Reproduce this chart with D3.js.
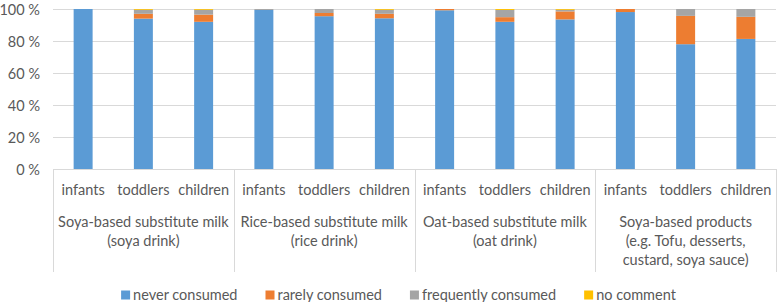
<!DOCTYPE html>
<html><head><meta charset="utf-8">
<script src="https://cdn.jsdelivr.net/npm/d3@7"></script>
<style>
html,body{margin:0;padding:0;background:#fff;}
svg text{font-family:Lato, "Open Sans", sans-serif;fill:#595959;}
</style></head>
<body>
<svg id="chart" width="780" height="302"></svg>
<script>
const categories = ["infants", "toddlers", "children"];
const groups = [
  ["Soya-based substitute milk", "(soya drink)"],
  ["Rice-based substitute milk", "(rice drink)"],
  ["Oat-based substitute milk", "(oat drink)"],
  ["Soya-based products", "(e.g. Tofu, desserts,", "custard, soya sauce)"]
];
const seriesNames = ["never consumed", "rarely consumed", "frequently consumed", "no comment"];
const neverConsumed      = [100, 94, 92,   99.4, 95.5, 94.2,  99.2, 92, 93.5,  98.1, 78, 81.3];
const rarelyConsumed     = [0,   3,  4.5,  0,    2,    2.8,   0.8,  2.9, 5,    1.9, 17.7, 13.8];
const frequentlyConsumed = [0,   2.5, 3,   0.6,  2.5,  2.5,   0,    4.5, 1,    0,   4.3, 4.9];
const noComment          = [0,   0.5, 0.5, 0,    0,    0.5,   0,    0.6, 0.5,  0,   0,   0];
const yTicks = [0, 20, 40, 60, 80, 100];
const colors = ["#5b9bd5", "#ed7d31", "#a5a5a5", "#ffc000"];

(function () {
const series = [neverConsumed, rarelyConsumed, frequentlyConsumed, noComment];
const rows = [];
groups.forEach((g, gi) => categories.forEach((c, ci) => {
  const i = gi * categories.length + ci;
  const r = {group: gi, cat: c};
  seriesNames.forEach((s, si) => r[s] = series[si][i]);
  rows.push(r);
}));

const fs = "14.5px";
const svg = d3.select("#chart");
const pLeft = 53, pRight = 776, pTop = 9, pBottom = 169;
const y = d3.scaleLinear().domain([0, 100]).range([pBottom, pTop]);
const xGroup = d3.scaleBand().domain(d3.range(groups.length)).range([pLeft, pRight]).padding(0);
const xCat = d3.scaleBand().domain(categories).range([0, xGroup.bandwidth()]).padding(0);
const barW = xCat.bandwidth() * 0.315;

svg.append("g").selectAll("line").data(yTicks.filter(t => t > 0)).join("line")
  .attr("x1", pLeft).attr("x2", pRight)
  .attr("y1", d => Math.round(y(d)) + 0.5).attr("y2", d => Math.round(y(d)) + 0.5)
  .attr("stroke", "#d9d9d9").attr("stroke-width", 1);

svg.append("g").selectAll("text").data(yTicks).join("text")
  .attr("x", 40).attr("y", d => y(d) + 1).attr("dy", "0.35em")
  .attr("text-anchor", "end").style("font-size", fs)
  .text(d => d + " %");

const stack = d3.stack().keys(seriesNames)(rows);
svg.append("g").selectAll("g").data(stack).join("g")
  .attr("fill", (d, i) => colors[i])
  .selectAll("rect").data(d => d).join("rect")
  .attr("x", d => xGroup(d.data.group) + xCat(d.data.cat) + xCat.bandwidth() / 2 - barW / 2)
  .attr("width", barW)
  .attr("y", d => y(d[1]))
  .attr("height", d => Math.max(0, y(d[0]) - y(d[1])));

const axisBottom = 272;
svg.append("line").attr("x1", pLeft).attr("x2", pRight).attr("y1", pBottom + 0.5).attr("y2", pBottom + 0.5)
  .attr("stroke", "#d9d9d9");
svg.append("g").selectAll("line").data(d3.range(groups.length + 1)).join("line")
  .attr("x1", d => Math.round(d < groups.length ? xGroup(d) : pRight) + 0.5)
  .attr("x2", d => Math.round(d < groups.length ? xGroup(d) : pRight) + 0.5)
  .attr("y1", pBottom).attr("y2", axisBottom)
  .attr("stroke", "#d9d9d9");

svg.append("g").selectAll("text").data(rows).join("text")
  .attr("x", d => xGroup(d.group) + xCat(d.cat) + xCat.bandwidth() / 2)
  .attr("y", 190).attr("dy", "0.35em")
  .attr("text-anchor", "middle").style("font-size", fs)
  .text(d => d.cat);

const gl = svg.append("g").selectAll("text").data(groups).join("text")
  .attr("text-anchor", "middle").style("font-size", fs);
gl.selectAll("tspan").data((d, i) => d.map(line => ({line, i}))).join("tspan")
  .attr("x", d => xGroup(d.i) + xGroup.bandwidth() / 2)
  .attr("y", (d, j) => 222 + j * 19).attr("dy", "0.35em")
  .text(d => d.line);

const legend = svg.append("g");
let lx = 0;
seriesNames.forEach((s, i) => {
  const g = legend.append("g");
  g.append("rect").attr("x", 0).attr("y", -4.5).attr("width", 9).attr("height", 9).attr("fill", colors[i]);
  const t = g.append("text").attr("x", 12).attr("dy", "0.35em").style("font-size", fs).text(s);
  const w = 12 + t.node().getComputedTextLength();
  g.attr("transform", `translate(${lx},0)`);
  lx += w + 28;
});
const totalW = lx - 28;
legend.attr("transform", `translate(${398.5 - totalW / 2},295)`);
})();
</script>
</body></html>
